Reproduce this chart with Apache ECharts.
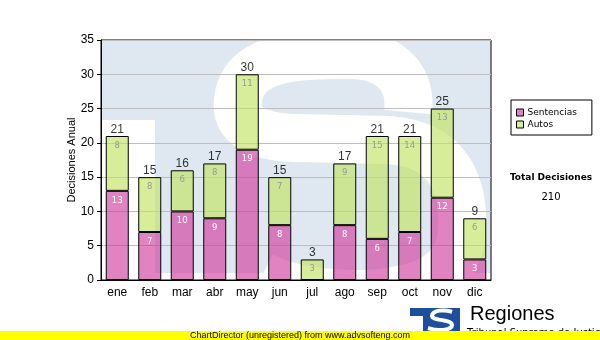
<!DOCTYPE html>
<html>
<head>
<meta charset="utf-8">
<script src="https://cdn.jsdelivr.net/npm/echarts@6/dist/echarts.min.js"></script>
<style>
  html, body { margin: 0; padding: 0; background: #fff; }
  #chart { width: 600px; height: 340px; }
</style>
</head>
<body>
<div id="chart"></div>
<script>
// Monthly decisions, split into rulings (sentencias) and orders (autos)
const months = ['ene', 'feb', 'mar', 'abr', 'may', 'jun', 'jul', 'ago', 'sep', 'oct', 'nov', 'dic'];
const sentencias = [13, 7, 10, 9, 19, 8, 0, 8, 6, 7, 12, 3];
const autos = [8, 8, 6, 8, 11, 7, 3, 9, 15, 14, 13, 6];
const yMin = 0, yMax = 35, yStep = 5;

const totals = months.map((m, i) => sentencias[i] + autos[i]);
const grandTotal = totals.reduce((a, b) => a + b, 0);

const PINK = 'rgba(208,60,158,0.64)';
const GREEN = 'rgba(195,228,100,0.66)';
const WM_BLUE = '#dfe8f1';
const LOGO_BLUE = '#1d4f9e';

// Plot area box in pixels
const G = { left: 101, top: 40, right: 491, bottom: 280 };

// Turn a chain of cubic segments into polyline points
function curvePoints(start, segs, steps) {
  const pts = [start.slice()];
  let p0 = start;
  segs.forEach((s) => {
    if (s.length === 2) { pts.push(s.slice()); p0 = s; return; }
    const [c1, c2, p3] = s;
    for (let k = 1; k <= steps; k++) {
      const t = k / steps, u = 1 - t;
      pts.push([
        u * u * u * p0[0] + 3 * u * u * t * c1[0] + 3 * u * t * t * c2[0] + t * t * t * p3[0],
        u * u * u * p0[1] + 3 * u * u * t * c1[1] + 3 * u * t * t * c2[1] + t * t * t * p3[1]
      ]);
    }
    p0 = p3;
  });
  return pts;
}

const chart = echarts.init(document.getElementById('chart'), null, { renderer: 'canvas' });

// Background emblem: pale block with a white "S" carved into it
const sPts = curvePoints([408, 112], [
  [[412, 80], [392, 55], [350, 55]],
  [[300, 55], [243, 55], [238, 100]],
  [[234, 128], [262, 138], [300, 138]],
  [385, 140],
  [[452, 142], [464, 190], [462, 230]],
  [[460, 270], [430, 292], [360, 294]],
  [[320, 294], [285, 288], [262, 276]]
], 24);
const watermark = [
  { type: 'rect', z: -10, silent: true, shape: { x: G.left, y: G.top, width: G.right - G.left, height: 233 }, style: { fill: WM_BLUE } },
  { type: 'polyline', z: -9, silent: true, shape: { points: sPts }, style: { fill: null, stroke: '#fff', lineWidth: 48, lineJoin: 'round' } },
  { type: 'rect', z: -7, silent: true, shape: { x: G.left, y: 120, width: 54, height: 153 }, style: { fill: '#fff' } },
  // trim anything outside the plot box
  { type: 'rect', z: -6, silent: true, shape: { x: 0, y: 0, width: 600, height: G.top }, style: { fill: '#fff' } },
  { type: 'rect', z: -6, silent: true, shape: { x: G.right, y: 0, width: 109, height: 300 }, style: { fill: '#fff' } },
  { type: 'rect', z: -6, silent: true, shape: { x: G.left, y: 273, width: 400, height: 30 }, style: { fill: '#fff' } }
];

// Small emblem + caption at the bottom right
const iconPts = curvePoints([452, 312], [
  [[445, 309], [432, 310], [432, 316]],
  [[432, 321], [452, 319], [452, 325]],
  [[452, 331], [436, 331], [428, 328]]
], 10);
const footer = [
  { type: 'rect', z: 5, silent: true, shape: { x: 410, y: 308, width: 50, height: 25 }, style: { fill: LOGO_BLUE } },
  { type: 'rect', z: 6, silent: true, shape: { x: 410, y: 316, width: 13, height: 20 }, style: { fill: '#fff' } },
  { type: 'polyline', z: 6, silent: true, shape: { points: iconPts }, style: { fill: null, stroke: '#fff', lineWidth: 4 } },
  { type: 'text', z: 6, silent: true, left: 470, top: 304, style: { text: 'Regiones', font: '20px "Liberation Sans", Arial, sans-serif', fill: '#000' } },
  { type: 'text', z: 6, silent: true, left: 467, top: 328.5, style: { text: 'Tribunal Supremo de Justicia', font: '10px "DejaVu Sans", Verdana, sans-serif', fill: '#000' } },
  { type: 'rect', z: 7, silent: true, shape: { x: 0, y: 331, width: 600, height: 9 }, style: { fill: '#ffff00' } },
  { type: 'text', z: 8, silent: true, x: 300, y: 335.5, style: { text: 'ChartDirector (unregistered) from www.advsofteng.com', font: '9px "Liberation Sans", Arial, sans-serif', fill: '#000', align: 'center', verticalAlign: 'middle' } },
  { type: 'text', z: 8, silent: true, x: 551, y: 178, style: { text: 'Total Decisiones', font: 'bold 9px "DejaVu Sans", Verdana, sans-serif', fill: '#000', align: 'center', verticalAlign: 'middle' } },
  { type: 'text', z: 8, silent: true, x: 551, y: 197, style: { text: String(grandTotal), font: '10px "DejaVu Sans", Verdana, sans-serif', fill: '#000', align: 'center', verticalAlign: 'middle' } }
];

const segLabel = (color) => ({
  show: true,
  position: 'insideTop',
  distance: 5,
  color: color,
  fontSize: 8.5,
  fontFamily: '"DejaVu Sans", Verdana, sans-serif',
  formatter: (p) => (p.value ? String(p.value) : '')
});

chart.setOption({
  animation: false,
  backgroundColor: '#fff',
  textStyle: { fontFamily: '"Liberation Sans", Arial, sans-serif' },
  graphic: { elements: watermark.concat(footer) },
  grid: {
    left: G.left, top: G.top, right: 600 - G.right, bottom: 340 - G.bottom,
    show: true, borderColor: '#000', borderWidth: 1, backgroundColor: 'transparent', z: 1
  },
  legend: {
    orient: 'vertical',
    left: 511, top: 100,
    padding: [7, 15, 5, 5],
    itemGap: 1,
    itemWidth: 7, itemHeight: 7,
    borderColor: '#000', borderWidth: 1,
    backgroundColor: '#fff',
    icon: 'rect',
    itemStyle: { borderColor: '#000', borderWidth: 1 },
    textStyle: { fontSize: 9, lineHeight: 11, color: '#000', fontFamily: '"DejaVu Sans", Verdana, sans-serif', padding: [0, 0, 0, -1] },
    data: ['Sentencias', 'Autos']
  },
  xAxis: {
    type: 'category',
    data: months,
    z: 3,
    axisLine: { lineStyle: { color: '#000', width: 1 } },
    axisTick: { alignWithLabel: true, length: 4, lineStyle: { color: '#000' } },
    axisLabel: { color: '#000', fontSize: 12, margin: 7 },
    splitLine: { show: false }
  },
  yAxis: {
    type: 'value',
    min: yMin, max: yMax, interval: yStep,
    z: 3,
    name: 'Decisiones Anual',
    nameLocation: 'middle',
    nameGap: 24,
    nameMoveOverlap: false,
    nameRotate: 90,
    nameTextStyle: { color: '#000', fontSize: 11 },
    axisLine: { show: true, lineStyle: { color: '#000', width: 1 } },
    axisTick: { show: true, length: 4, lineStyle: { color: '#000' } },
    axisLabel: { color: '#000', fontSize: 12, margin: 7 },
    splitLine: { show: true, lineStyle: { color: '#bdbdbd', width: 1 } }
  },
  series: [
    {
      name: 'Sentencias', type: 'bar', stack: 'total', barWidth: 23, z: 4,
      data: sentencias,
      itemStyle: { color: PINK, borderColor: '#000', borderWidth: 1 },
      label: segLabel('#ffffff')
    },
    {
      name: 'Autos', type: 'bar', stack: 'total', barWidth: 23, z: 4,
      data: autos,
      itemStyle: { color: GREEN, borderColor: '#000', borderWidth: 1 },
      label: segLabel('#9a9a9a')
    },
    {
      name: 'Total', type: 'scatter', z: 5,
      data: totals,
      symbolSize: 1,
      itemStyle: { color: 'transparent' },
      label: { show: true, position: 'top', distance: 0, color: '#000', fontSize: 12, formatter: (p) => String(p.value) },
      tooltip: { show: false }
    }
  ]
});
</script>
</body>
</html>
